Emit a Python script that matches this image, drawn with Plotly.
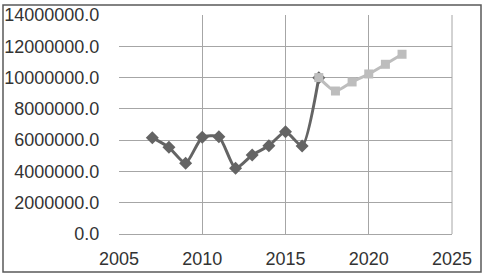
import plotly.graph_objects as go

years_hist = [2007, 2008, 2009, 2010, 2011, 2012, 2013, 2014, 2015, 2016, 2017]
values_hist = [6160000, 5540000, 4520000, 6180000, 6220000, 4200000, 5050000, 5640000, 6540000, 5630000, 9990000]
years_fc = [2017, 2018, 2019, 2020, 2021, 2022]
values_fc = [10000000, 9140000, 9720000, 10230000, 10850000, 11490000]

W, H = 486, 274
L, R, T, B = 119, 34, 15, 40
pw, ph = W - L - R, H - T - B

fig = go.Figure()
fig.add_trace(go.Scatter(x=years_hist, y=values_hist, mode="lines+markers",
                         line=dict(color="#646464", width=3, shape="spline", smoothing=0.6),
                         marker=dict(symbol="diamond", size=10, color="#646464"),
                         showlegend=False))
fig.add_trace(go.Scatter(x=years_fc, y=values_fc, mode="lines+markers",
                         line=dict(color="#bdbdbd", width=3, shape="spline", smoothing=0.6),
                         marker=dict(symbol="square", size=9, color="#bdbdbd"),
                         showlegend=False))

fx = lambda px: (px - L) / pw
fy = lambda py: (H - B - py) / ph
fig.add_shape(type="rect", xref="paper", yref="paper",
              x0=fx(3), x1=fx(481), y0=fy(272), y1=fy(5),
              line=dict(color="#595959", width=1.5), layer="below")

font = dict(family="Liberation Sans, Arial, sans-serif", size=18, color="#333333")
fig.update_layout(
    width=W, height=H,
    margin=dict(l=L, r=R, t=T, b=B, pad=0, autoexpand=False),
    paper_bgcolor="white", plot_bgcolor="white",
    font=font,
    xaxis=dict(range=[2005, 2025], tickvals=[2005, 2010, 2015, 2020, 2025],
               showgrid=True, gridcolor="#a6a6a6", gridwidth=1,
               showline=True, linecolor="#a6a6a6", linewidth=1, mirror=False,
               zeroline=False, ticks="outside", ticklen=8, tickcolor="rgba(0,0,0,0)",
               tickfont=font, fixedrange=True, automargin=False),
    yaxis=dict(range=[0, 14000000], tickvals=[i * 2000000 for i in range(8)],
               tickformat=".1f", showgrid=True, gridcolor="#a6a6a6", gridwidth=1,
               showline=False, zeroline=False, ticks="outside", ticklen=15,
               tickcolor="rgba(0,0,0,0)", tickfont=font, fixedrange=True, automargin=False),
)
fig.add_shape(type="line", xref="paper", yref="paper", x0=1, x1=1, y0=0, y1=1,
              line=dict(color="#a6a6a6", width=1), layer="below")
fig.write_html("out.html")
